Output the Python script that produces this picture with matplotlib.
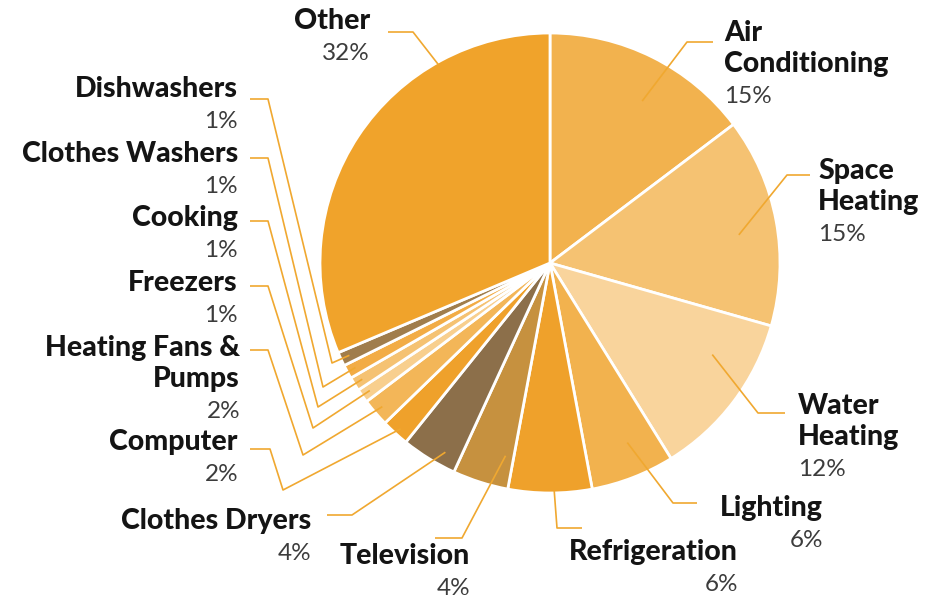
import numpy as np
import matplotlib
matplotlib.use("Agg")
from matplotlib import pyplot as plt

# Dados do gráfico
categorias = ["Air\nConditioning", "Space\nHeating", "Water\nHeating", "Lighting",
              "Refrigeration", "Television", "Clothes Dryers", "Computer",
              "Heating Fans &\nPumps", "Freezers", "Cooking", "Clothes Washers",
              "Dishwashers", "Other"]
valores = [15, 15, 12, 6, 6, 4, 4, 2, 2, 1, 1, 1, 1, 32]
cores = ["#F2B24E", "#F5C272", "#F9D49C", "#F2B24E", "#EFA12B", "#C6913F",
         "#8C6F4A", "#EFA12B", "#F3B658", "#F8CF8E", "#F5C272", "#F2AC45",
         "#A07D4C", "#F0A32B"]

# Layout dos rótulos (pixels da imagem: x, y do centro da 1a linha, alinhamento)
rotulos_pos = [(724, 32, "left"), (818, 170, "left"), (798, 405, "left"),
               (823, 507, "right"), (738, 551, "right"), (470, 555, "right"),
               (311, 520, "right"), (238, 441, "right"), (240, 347, "right"),
               (238, 282, "right"), (238, 217, "right"), (238, 153, "right"),
               (238, 88, "right"), (370, 20, "right")]

# Linhas guia: pontos de quebra (pixels), posição angular no setor, fração do raio
guias = [([(713, 42), (687, 42)], 0.44, 0.81),
         ([(810, 175), (787, 175)], 0.46, 0.83),
         ([(785, 413), (758, 413)], 0.68, 0.81),
         ([(697, 503), (673, 503)], 0.60, 0.85),
         ([(582, 528), (557, 528)], 0.55, 0.99),
         ([(435, 538), (462, 538)], 0.83, 0.86),
         ([(327, 515), (352, 515)], 0.70, 0.94),
         ([(250, 449), (270, 449), (283, 490)], 0.55, 0.97),
         ([(250, 350), (268, 350), (303, 455)], 0.5, 0.96),
         ([(250, 286), (268, 286), (313, 428)], 0.5, 0.96),
         ([(250, 221), (268, 221), (318, 407)], 0.5, 0.96),
         ([(250, 158), (268, 158), (323, 387)], 0.5, 0.96),
         ([(250, 99), (268, 99), (332, 363)], 0.5, 0.96),
         ([(388, 32), (413, 32)], 0.26, 0.99)]

W, H = 932, 599
def Y(y):
    return H - y

cx, cy, raio = 550, Y(263), 230

fig = plt.figure(figsize=(W / 100, H / 100), dpi=100)
ax = fig.add_axes([0, 0, 1, 1])
wedges, _ = ax.pie(valores, colors=cores, startangle=90, counterclock=False,
                   center=(cx, cy), radius=raio,
                   wedgeprops=dict(edgecolor="white", linewidth=2))
ax.set_xlim(0, W)
ax.set_ylim(0, H)
ax.set_aspect("equal")
ax.axis("off")

cor_linha = "#F0A830"
for w, (pts, t, fr) in zip(wedges, guias):
    ang = np.radians(w.theta1 + t * (w.theta2 - w.theta1))
    ex = cx + raio * fr * np.cos(ang)
    ey = cy + raio * fr * np.sin(ang)
    xs = [p[0] for p in pts] + [ex]
    ys = [Y(p[1]) for p in pts] + [ey]
    ax.plot(xs, ys, color=cor_linha, lw=1.2, solid_capstyle="butt", zorder=3)

for nome, v, (x, y, ha) in zip(categorias, valores, rotulos_pos):
    linhas = nome.split("\n")
    for i, l in enumerate(linhas):
        ax.text(x, Y(y + i * 31 + 9), l, ha=ha, va="baseline", fontsize=20.5,
                fontweight="black", family="Lato", color="#141414")
    ax.text(x, Y(y + len(linhas) * 31 + 9), f"{v}%", ha=ha, va="baseline",
            fontsize=17.5, fontweight="normal", family="Lato", color="#3c3c3c")

fig.savefig("out.png", dpi=100)
